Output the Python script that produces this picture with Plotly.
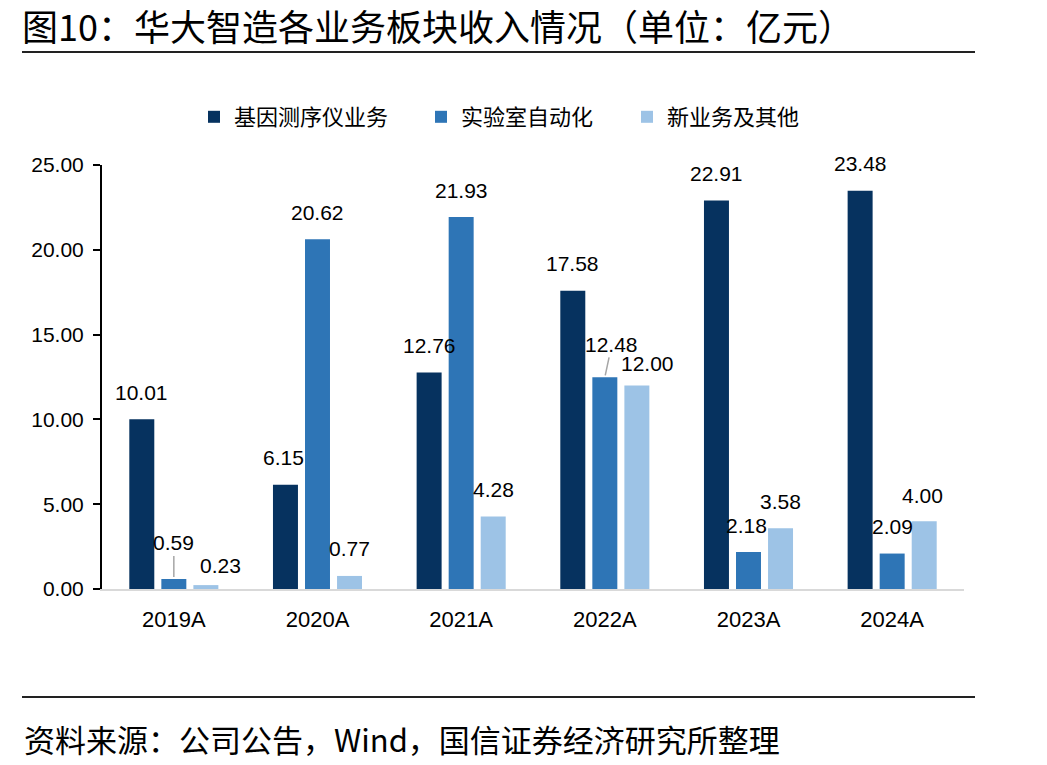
import plotly.graph_objects as go

categories = ["2019A", "2020A", "2021A", "2022A", "2023A", "2024A"]
series_names = ["基因测序仪业务", "实验室自动化", "新业务及其他"]
seq_values = [10.01, 6.15, 12.76, 17.58, 22.91, 23.48]
lab_values = [0.59, 20.62, 21.93, 12.48, 2.18, 2.09]
new_values = [0.23, 0.77, 4.28, 12.00, 3.58, 4.00]
y_ticks = [0, 5, 10, 15, 20, 25]

title_text = "图10：华大智造各业务板块收入情况（单位：亿元）"
source_text = "资料来源：公司公告，Wind，国信证券经济研究所整理"

colors = ["#06325f", "#2e75b6", "#9dc3e6"]
all_values = [seq_values, lab_values, new_values]

# label style offsets (pixels): (dx, dy above bar top, leader line?)
label_style = {
    (1, 0): (0, 36, True),
    (2, 0): (15, 20, False),
    (0, 1): (-2, 27, False),
    (1, 3): (7, 33, True),
    (2, 3): (11, 22, False),
    (1, 4): (-2, 27, False),
    (2, 5): (-2, 26, False),
}

W, H = 1047, 765
L, R, T, B = 102, 83, 165, 176
pw, ph = W - L - R, H - T - B

def px_x(px):
    return (px - L) / pw

def px_y(py):
    return (H - B - py) / ph

font_num = "Liberation Sans, Arial, Noto Sans CJK SC"
font_cjk = "Noto Sans CJK SC, Liberation Sans"

fig = go.Figure()
legend_names = ["legend", "legend2", "legend3"]
for i, (name, vals) in enumerate(zip(series_names, all_values)):
    fig.add_trace(go.Bar(
        x=categories, y=vals, name=name,
        marker=dict(color=colors[i], line=dict(width=0)),
        legend=legend_names[i],
    ))

annotations = []
for i, vals in enumerate(all_values):
    for j, v in enumerate(vals):
        dx, dy, leader = label_style.get((i, j), (0, 27, False))
        base_shift = (i - 1) * 32
        txt = f"{v:.2f}"
        if leader:
            annotations.append(dict(
                x=categories[j], y=v, xref="x", yref="y", text=txt,
                xshift=base_shift, showarrow=True, ax=dx, ay=-dy,
                arrowhead=0, arrowwidth=1.5, arrowcolor="#a6a6a6", standoff=2,
                font=dict(family=font_num, size=21, color="#000000"),
            ))
        else:
            annotations.append(dict(
                x=categories[j], y=v, xref="x", yref="y", text=txt,
                xshift=base_shift + dx, yshift=dy, showarrow=False,
                xanchor="center", yanchor="middle",
                font=dict(family=font_num, size=21, color="#000000"),
            ))

annotations.append(dict(
    x=px_x(22), y=px_y(738), xref="paper", yref="paper", text=source_text,
    showarrow=False, xanchor="left", yanchor="middle",
    font=dict(family=font_cjk, size=31, color="#000000"),
))

shapes = [
    dict(type="line", xref="paper", yref="paper", x0=px_x(22), x1=px_x(975),
         y0=px_y(52), y1=px_y(52), line=dict(color="#222222", width=2)),
    dict(type="line", xref="paper", yref="paper", x0=px_x(22), x1=px_x(975),
         y0=px_y(697), y1=px_y(697), line=dict(color="#222222", width=2)),
]

legend_common = dict(orientation="h", yanchor="middle", xanchor="left",
                     y=px_y(117), bgcolor="rgba(0,0,0,0)",
                     font=dict(family=font_cjk, size=22, color="#000000"))

fig.update_layout(
    width=W, height=H,
    margin=dict(l=L, r=R, t=T, b=B),
    paper_bgcolor="white", plot_bgcolor="white",
    barmode="group", bargap=0.331, bargroupgap=0.22,
    title=dict(text=title_text, x=22 / W, xref="container", xanchor="left",
               y=1 - 28 / H, yref="container", yanchor="middle",
               font=dict(family=font_cjk, size=36, color="#000000")),
    legend=dict(x=px_x(194), **legend_common),
    legend2=dict(x=px_x(421), **legend_common),
    legend3=dict(x=px_x(627), **legend_common),
    xaxis=dict(showline=True, linecolor="#d9d9d9", linewidth=2, ticks="",
               showgrid=False, zeroline=False, ticklabelstandoff=10,
               tickfont=dict(family=font_num, size=22, color="#000000")),
    yaxis=dict(range=[0, 25], tickvals=y_ticks, tickformat=".2f",
               showline=True, linecolor="#000000", linewidth=2,
               ticks="outside", ticklen=7, tickwidth=2, tickcolor="#000000",
               showgrid=False, zeroline=False, ticklabelstandoff=5,
               tickfont=dict(family=font_num, size=21, color="#000000")),
    annotations=annotations, shapes=shapes,
    showlegend=True,
)

fig.write_html("out.html")
